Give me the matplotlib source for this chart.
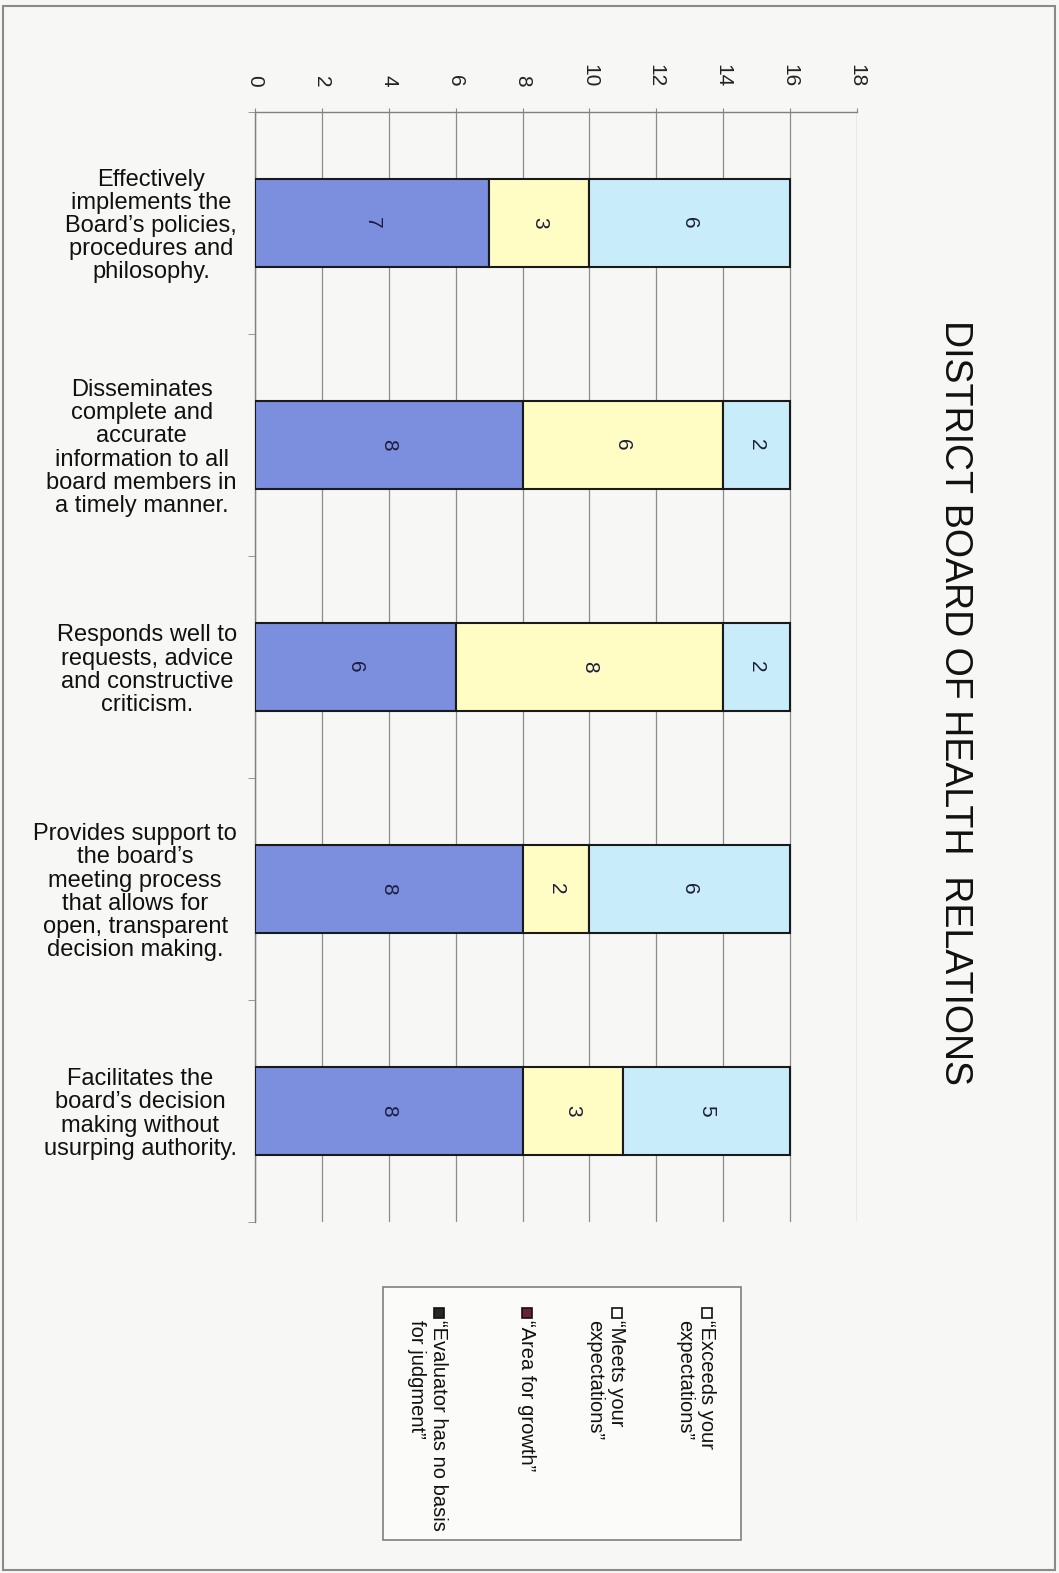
import matplotlib
matplotlib.use('Agg')
import matplotlib.pyplot as plt
from matplotlib.patches import Rectangle
import numpy as np

plt.rcParams['font.family'] = ['Liberation Sans', 'DejaVu Sans']

# data
categories = [
    'Effectively\nimplements the\nBoard\u2019s policies,\nprocedures and\nphilosophy.',
    'Disseminates\ncomplete and\naccurate\ninformation to all\nboard members in\na timely manner.',
    'Responds well to\nrequests, advice\nand constructive\ncriticism.',
    'Provides support to\nthe board\u2019s\nmeeting process\nthat allows for\nopen, transparent\ndecision making.',
    'Facilitates the\nboard\u2019s decision\nmaking without\nusurping authority.',
]
no_basis = [7, 8, 6, 8, 8]
growth = [0, 0, 0, 0, 0]
meets = [3, 6, 8, 2, 3]
exceeds = [6, 2, 2, 6, 5]
value_ticks = list(range(0, 19, 2))

legend_labels = ['\u201cExceeds your\nexpectations\u201d', '\u201cMeets your\nexpectations\u201d',
                 '\u201cArea for growth\u201d', '\u201cEvaluator has no basis\nfor judgment\u201d']
legend_colors = ['white', 'white', '#6b1f38', '#262626']

W, H = 1059, 1573
fig = plt.figure(figsize=(W / 100, H / 100), dpi=100)
fig.patch.set_facecolor('#f7f7f5')

# outer frame of the page
fig.patches.append(Rectangle((3 / W, 3 / H), (1055 - 3) / W, (1570 - 6) / H, transform=fig.transFigure,
                             fill=False, edgecolor='#8a8a8a', linewidth=1.5))

ax = fig.add_axes([255 / W, 1 - 1222 / H, (857 - 255) / W, (1222 - 112) / H])
ax.set_facecolor('none')

y = np.arange(len(categories))
series = [(no_basis, '#7b8fde'), (growth, '#993366'), (meets, '#fffdc4'), (exceeds, '#c9ecfa')]
left = np.zeros(len(categories))
for vals, color in series:
    vals = np.array(vals, dtype=float)
    if not vals.any():
        continue
    ax.barh(y, vals, left=left, height=0.4, color=color, edgecolor='#1a1a1a', linewidth=1.5, zorder=3)
    for yi, l, v in zip(y, left, vals):
        ax.text(l + v / 2, yi, '%d' % v, rotation=270, ha='center', va='center',
                fontsize=15, color='#1c1c3c', zorder=4)
    left += vals

ax.set_xlim(0, 18)
ax.set_ylim(4.5, -0.5)
ax.xaxis.tick_top()
ax.set_xticks(value_ticks)
ax.tick_params(axis='x', which='major', length=3, pad=15, labelsize=15, labelrotation=270,
               color='#888888', labelcolor='#222222')
ax.xaxis.grid(True, color='#8c8c8c', linewidth=0.9)
ax.set_axisbelow(True)

ax.set_yticks(y)
ax.set_yticklabels(categories, fontsize=17, multialignment='center', linespacing=1.07, color='#111111')
ax.tick_params(axis='y', which='major', length=0, pad=13)
ax.set_yticks(np.arange(-0.5, 5, 1), minor=True)
ax.tick_params(axis='y', which='minor', length=5, color='#888888')

for side in ['right', 'bottom']:
    ax.spines[side].set_visible(False)
for side in ['left', 'top']:
    ax.spines[side].set_color('#808080')
    ax.spines[side].set_linewidth(1.0)

# title (rotated like the page)
fig.text(955 / W, 1 - 703 / H, 'DISTRICT BOARD OF HEALTH  RELATIONS', rotation=270,
         ha='center', va='center', fontsize=27, color='#111111')

# legend, drawn by hand because the whole chart is turned on its side
fig.patches.append(Rectangle((383 / W, 1 - 1540 / H), (741 - 383) / W, (1540 - 1287) / H,
                             transform=fig.transFigure, facecolor='#fbfbfa', edgecolor='#808080', linewidth=1.2))
marker_x = [707, 617, 527, 439]
for mx, lab, col in zip(marker_x, legend_labels, legend_colors):
    fig.patches.append(Rectangle(((mx - 5) / W, 1 - 1318 / H), 10 / W, 10 / H, transform=fig.transFigure,
                                 facecolor=col, edgecolor='#111111', linewidth=1.2))
    fig.text((mx + 9) / W, 1 - 1320 / H, lab, rotation=270, ha='right', va='top', fontsize=14.5,
             multialignment='left', linespacing=1.22, color='#111111')

fig.savefig('out.png', dpi=100, facecolor=fig.get_facecolor())
